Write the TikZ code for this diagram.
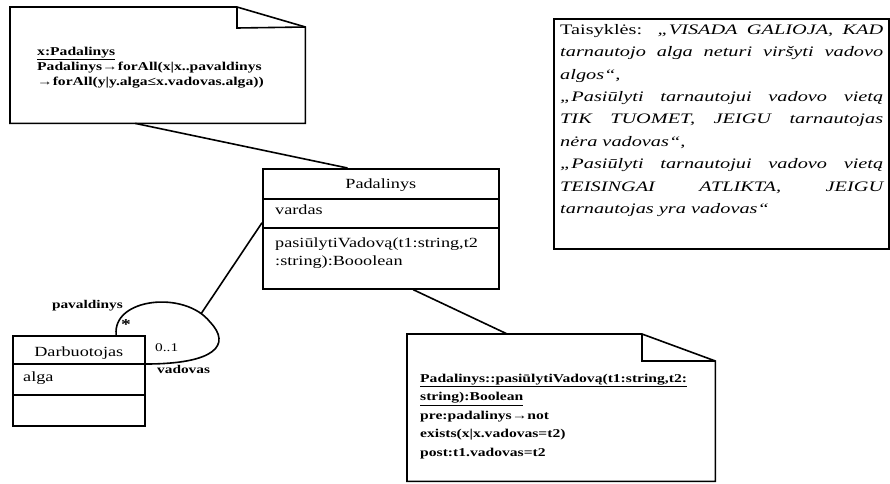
\documentclass[tikz,border=0pt]{standalone}
\usepackage{fontspec}
\setmainfont[FakeStretch=1.3]{Liberation Serif}
\newfontfamily\rulesfont[FakeStretch=1.4]{Liberation Serif}
\usetikzlibrary{calc}

\begin{document}
\begin{tikzpicture}[x=1pt,y=-1pt,
  outline/.style={draw=black, line width=1.6pt, line join=miter},
  link/.style={draw=black, line width=1.6pt},
  box/.style={draw=black, line width=1.6pt, anchor=north west, inner sep=0pt},
  area/.style={anchor=north west, inner sep=0pt},
  classtext/.style={font=\fontsize{14}{17.5}\selectfont, inner sep=0pt},
  notetext/.style={font=\fontsize{12}{15}\selectfont\bfseries, align=left, anchor=north west, inner sep=0pt},
  rolelabel/.style={font=\fontsize{11.8}{14}\selectfont, inner sep=0pt},
  rolename/.style={font=\fontsize{11.8}{14}\selectfont\bfseries, inner sep=0pt}
]
\fill[white] (0,0) rectangle (890,483);
\useasboundingbox (0,0) rectangle (890,483);

% ---------- constraint note on Padalinys ----------
\node[area, minimum width=295pt, minimum height=116pt] (note1) at (10,7) {};
\draw[outline] (note1.north west) -- ($(note1.north west)+(227,0)$)
  -- ($(note1.north east)+(0,20)$) -- (note1.south east) -- (note1.south west) -- cycle;
\draw[outline] ($(note1.north west)+(227,0)$) -- ($(note1.north west)+(227,21)$)
  -- ($(note1.north east)+(0,20)$);
\node[notetext] (note1txt) at (37,47)
  {\underline{x:Padalinys}\\
   Padalinys→forAll(x|x..pavaldinys\\
   →forAll(y|y.alga≤x.vadovas.alga))};

% ---------- class Padalinys ----------
\node[box, minimum width=236pt, minimum height=120pt] (pad) at (262,168) {};
\draw[outline] ($(pad.north west)+(0,31)$) -- ($(pad.north east)+(0,31)$);
\draw[outline] ($(pad.north west)+(0,60)$) -- ($(pad.north east)+(0,60)$);
\node[classtext] (padname) at ($(pad.north)+(0,17)$) {Padalinys};
\node[classtext, anchor=west] (padattr) at (275,210) {vardas};
\node[classtext, anchor=north west, align=left] (padop) at (275,238)
  {pasiūlytiVadovą(t1:string,t2\\:string):Booolean};

% ---------- class Darbuotojas ----------
\node[box, minimum width=132pt, minimum height=90pt] (dar) at (12,335) {};
\draw[outline] ($(dar.north west)+(0,29)$) -- ($(dar.north east)+(0,29)$);
\draw[outline] ($(dar.north west)+(0,60)$) -- ($(dar.north east)+(0,60)$);
\node[classtext] (darname) at ($(dar.north)+(0,18)$) {Darbuotojas};
\node[classtext, anchor=west] (darattr) at (23,378) {alga};

% ---------- operation note ----------
\node[area, minimum width=308pt, minimum height=147pt] (note2) at (407,334) {};
\draw[outline] (note2.north west) -- ($(note2.north west)+(235,0)$)
  -- ($(note2.north east)+(0,27)$) -- (note2.south east) -- (note2.south west) -- cycle;
\draw[outline] ($(note2.north west)+(235,0)$) -- ($(note2.north west)+(235,27)$)
  -- ($(note2.north east)+(0,27)$);
\node[notetext, font=\fontsize{12}{18.4}\selectfont\bfseries] (note2txt) at (420,374)
  {\underline{Padalinys::pasiūlytiVadovą(t1:string,t2:}\\
   \underline{string):Boolean}\\
   pre:padalinys→not\\
   exists(x|x.vadovas=t2)\\
   post:t1.vadovas=t2};

% ---------- rules box ----------
\node[box, minimum width=335pt, minimum height=230pt] (rules) at (553,18) {};
\node[area, text width=323pt, align=justify,
      font=\rulesfont\fontsize{14.5}{22.4}\selectfont] (rulestxt) at (560,24)
  {\parindent=0pt
   Taisyklės: \textit{„VISADA GALIOJA, KAD\linebreak
   tarnautojo alga neturi viršyti vadovo\linebreak
   algos“,}\par
   \textit{„Pasiūlyti tarnautojui vadovo vietą\linebreak
   TIK TUOMET, JEIGU tarnautojas\linebreak
   nėra vadovas“,}\par
   \textit{„Pasiūlyti tarnautojui vadovo vietą\linebreak
   TEISINGAI ATLIKTA, JEIGU\linebreak
   tarnautojas yra vadovas“}\par};

% ---------- connectors ----------
\draw[link] ($(note1.south west)!0.424!(note1.south east)$)
  -- ($(pad.north west)!0.36!(pad.north east)$);
\draw[link] ($(pad.south west)!0.636!(pad.south east)$)
  -- ($(note2.north west)!0.325!(note2.north east)$);

% self-association of Darbuotojas
\coordinate (loopstart) at ($(dar.north west)!0.78!(dar.north east)$);
\coordinate (loopend) at ($(dar.north east)+(0,29)$);
\draw[link] (loopstart) .. controls (112,298) and (185,290) .. coordinate[pos=0.9] (loopjoin) (210,322)
  .. controls (232,345) and (215,364) .. (loopend);
\draw[link] ($(pad.north west)!0.45!(pad.south west)$) -- (loopjoin);

% role names and multiplicities
\node[rolename, anchor=east] (lblsub) at (123,306) {pavaldinys};
\node[rolename, font=\fontsize{15}{15}\selectfont\bfseries] (lblstar) at (126,325) {*};
\node[rolelabel, anchor=west] (lblmult) at (155,348) {0..1};
\node[rolename, anchor=west] (lblsup) at (157,369) {vadovas};
\end{tikzpicture}
\end{document}
